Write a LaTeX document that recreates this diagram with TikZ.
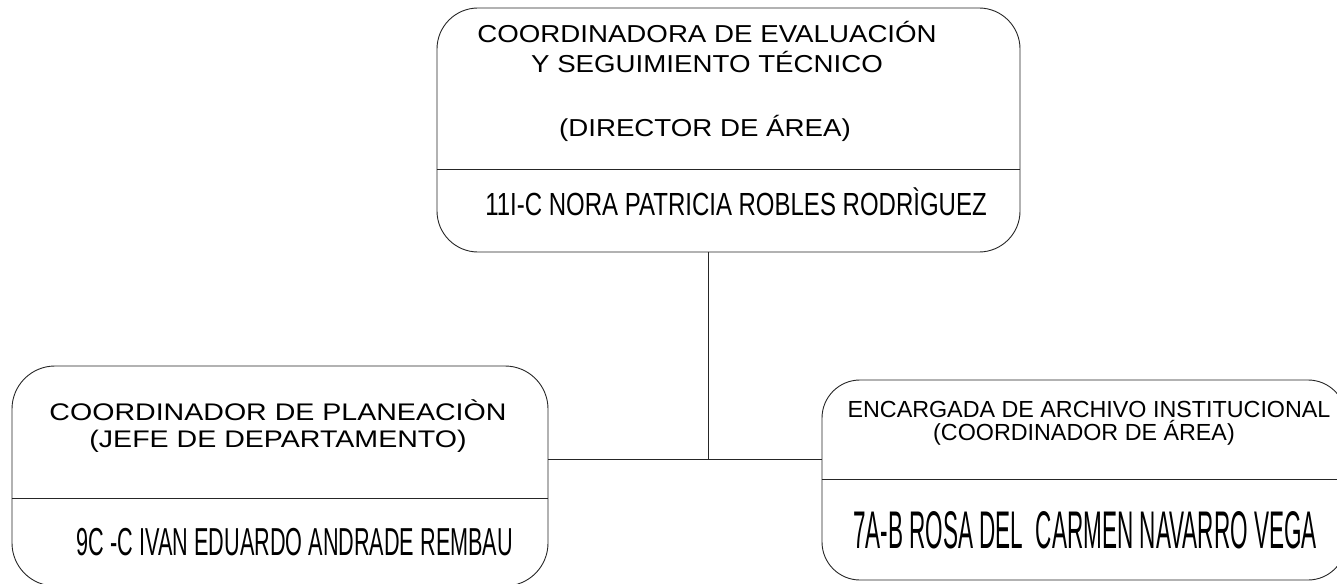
\documentclass[tikz,border=0pt]{standalone}
\usepackage{fontspec}
\usepackage{graphicx}
\setmainfont{Liberation Sans}
\newcommand{\txtl}[3]{\scalebox{#2}[1]{\fontsize{#1pt}{#1pt}\selectfont #3}}
\begin{document}
\begin{tikzpicture}[x=1pt,y=-1pt,
  box/.style={draw=black!85, line width=0.9pt, rounded corners=41pt, inner sep=0pt},
  sep/.style={draw=black!85, line width=0.9pt},
  conn/.style={draw=black!85, line width=0.9pt},
  lbl/.style={anchor=base, inner sep=0pt, text=black}]
\useasboundingbox (0,0) rectangle (1337,583);
% boxes
\node[box, minimum width=583pt, minimum height=244pt] (top) at (728.5,130) {};
\node[box, minimum width=536pt, minimum height=220pt, rounded corners=43pt] (left) at (280,476) {};
\node[box, minimum width=524pt, minimum height=200pt, rounded corners=38pt] (right) at (1084,480) {};
% dividers
\draw[sep] (top.west |- 0,169) -- (top.east |- 0,169);
\draw[sep] (left.west |- 0,498) -- (left.east |- 0,498);
\draw[sep] (right.west |- 0,479) -- (right.east |- 0,479);
% connectors
\coordinate (j) at (708,459);
\draw[conn] (top.south -| j) -- (j);
\draw[conn] (left.east |- j) -- (right.west |- j);
% top texts
\node[lbl] (t1) at (707,42.7) {\txtl{24.5}{1.13}{COORDINADORA DE EVALUACIÓN}};
\node[lbl] (t2) at (707,73) {\txtl{24.5}{1.13}{Y SEGUIMIENTO TÉCNICO}};
\node[lbl] (t3) at (705,136) {\txtl{24.5}{1.13}{(DIRECTOR DE ÁREA)}};
\node[lbl] (tn) at (736,215) {\txtl{32}{0.75}{11I-C NORA PATRICIA ROBLES RODRÌGUEZ}};
% left texts
\node[lbl] (l1) at (278,420) {\txtl{24}{1.19}{COORDINADOR DE PLANEACIÒN}};
\node[lbl] (l2) at (278,447) {\txtl{24}{1.19}{(JEFE DE DEPARTAMENTO)}};
\node[lbl] (ln) at (295,555) {\txtl{39}{0.555}{9C -C IVAN EDUARDO ANDRADE REMBAU}};
% right texts
\node[lbl] (r1) at (1089,417) {\txtl{23.3}{1.0}{ENCARGADA DE ARCHIVO INSTITUCIONAL}};
\node[lbl] (r2) at (1084,440) {\txtl{23.3}{1.0}{(COORDINADOR DE ÁREA)}};
\node[lbl] (rn) at (1085,548) {\txtl{53}{0.425}{7A-B ROSA DEL\ \ CARMEN NAVARRO VEGA}};
\end{tikzpicture}
\end{document}
